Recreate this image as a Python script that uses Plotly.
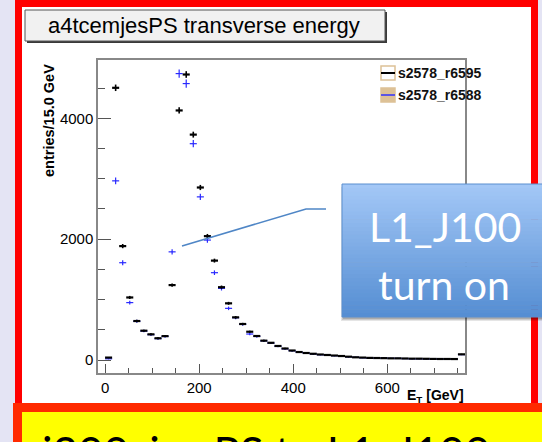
import plotly.graph_objects as go

# ---------------- data ----------------
bin_centers = [7.5, 22.5, 37.5, 52.5, 67.5, 82.5, 97.5, 112.5, 127.5, 142.5,
               157.5, 172.5, 187.5, 202.5, 217.5, 232.5, 247.5, 262.5, 277.5, 292.5,
               307.5, 322.5, 337.5, 352.5, 367.5, 382.5, 397.5, 412.5, 427.5, 442.5,
               457.5, 472.5, 487.5, 502.5, 517.5, 532.5, 547.5, 562.5, 577.5, 592.5,
               607.5, 622.5, 637.5, 652.5, 667.5, 682.5, 697.5, 712.5, 727.5, 742.5,
               757.5]
r6595 = [40, 4505, 1885, 1035, 645, 485, 425, 360, 395, 1240,
         4130, 4725, 3730, 2855, 2050, 1645, 1205, 938, 706, 596,
         468, 397, 320, 285, 232, 190, 157, 132, 116, 103,
         91, 83, 74, 66, 55, 45, 40, 35, 33, 31,
         28, 28, 25, 22, 22, 20, 18, 17, 17, 16,
         94]
r6588 = [20, 2965, 1610, 950, 640, 480, 420, 355, 390, 1790,
         4740, 4575, 3580, 2700, 1985, 1445, 1185, 855, 700, 590,
         430, 390, 318, 280, 228, 186, 155, 128, 114, 101,
         88, 80, 72, 64, 53, 44, 38, 34, 31, 30,
         27, 26, 24, 21, 21, 19, 17, 16, 15, 14,
         90]
series_names = ["s2578_r6595", "s2578_r6588"]
x_tickvals = [0, 200, 400, 600]
y_tickvals = [0, 2000, 4000]

# ---------------- layout helpers ----------------
W, H = 542, 442
L, R, T, B = 98, 465, 60, 373


def px(x):
    return (x - L) / (R - L)


def py(y):
    return (B - y) / (B - T)


fig = go.Figure()

fig.add_trace(go.Scatter(
    x=bin_centers, y=r6588, mode="markers", name=series_names[1],
    marker=dict(size=1, color="#2a2aff"),
    error_x=dict(type="constant", value=7.5, width=0, thickness=1.2, color="#2a2aff"),
    error_y=dict(type="data", array=[v ** 0.5 for v in r6588], width=0, thickness=1.2, color="#2a2aff"),
    showlegend=False, cliponaxis=True))
fig.add_trace(go.Scatter(
    x=bin_centers, y=r6595, mode="markers", name=series_names[0],
    marker=dict(size=1, color="#000000"),
    error_x=dict(type="constant", value=7.5, width=0, thickness=2.2, color="#000000"),
    error_y=dict(type="data", array=[0.8 * v ** 0.5 for v in r6595], width=0, thickness=1.6, color="#000000"),
    showlegend=False, cliponaxis=True))

shapes = []
# red slide frame
shapes.append(dict(type="rect", xref="paper", yref="paper", layer="below",
                   x0=px(18.5), x1=px(534.5), y0=py(3.5), y1=py(406.5),
                   line=dict(color="#ff0000", width=7), fillcolor="#ffffff"))
# title box with shadow
shapes.append(dict(type="rect", xref="paper", yref="paper",
                   x0=px(27), x1=px(387), y0=py(12), y1=py(43),
                   line=dict(width=0), fillcolor="#3a3a3a"))
shapes.append(dict(type="rect", xref="paper", yref="paper",
                   x0=px(25), x1=px(385), y0=py(10), y1=py(41),
                   line=dict(color="#555555", width=1), fillcolor="#f1f1f1"))
# legend symbols
tan = "#ddc196"
shapes.append(dict(type="rect", xref="paper", yref="paper",
                   x0=px(381), x1=px(395), y0=py(66), y1=py(80),
                   line=dict(color=tan, width=1.5), fillcolor="#ffffff"))
shapes.append(dict(type="line", xref="paper", yref="paper",
                   x0=px(381), x1=px(395), y0=py(73), y1=py(73),
                   line=dict(color="#000000", width=2)))
shapes.append(dict(type="rect", xref="paper", yref="paper",
                   x0=px(381), x1=px(395), y0=py(88), y1=py(102),
                   line=dict(color=tan, width=1.5), fillcolor=tan))
shapes.append(dict(type="line", xref="paper", yref="paper",
                   x0=px(381), x1=px(395), y0=py(95), y1=py(95),
                   line=dict(color="#3030ff", width=1.5)))
# callout connector
shapes.append(dict(type="path", xref="paper", yref="paper",
                   path=f"M {px(182)} {py(246)} L {px(306)} {py(209)} L {px(326)} {py(209)}",
                   line=dict(color="#4f86c6", width=1.6)))
# callout shadow
for i, a in enumerate([0.10, 0.12, 0.15]):
    d = 4 - i
    shapes.append(dict(type="rect", xref="paper", yref="paper",
                       x0=px(342 - d + 3), x1=px(548), y0=py(184 + 3), y1=py(317 + d),
                       line=dict(width=0), fillcolor=f"rgba(0,0,0,{a})"))
# callout gradient box
top_c = (164, 200, 247)
bot_c = (84, 141, 210)
N = 34
y_top, y_bot = 184, 317
for i in range(N):
    f = (i + 0.5) / N
    c = tuple(int(round(top_c[k] + (bot_c[k] - top_c[k]) * f)) for k in range(3))
    ya = y_top + (y_bot - y_top) * i / N
    yb = y_top + (y_bot - y_top) * (i + 1) / N + 0.6
    shapes.append(dict(type="rect", xref="paper", yref="paper",
                       x0=px(342), x1=px(548), y0=py(ya), y1=py(min(yb, y_bot)),
                       line=dict(width=0), fillcolor=f"rgb{c}"))
shapes.append(dict(type="rect", xref="paper", yref="paper",
                   x0=px(342), x1=px(548), y0=py(y_top), y1=py(y_bot),
                   line=dict(color="#5b8fcf", width=1), fillcolor="rgba(0,0,0,0)"))
# yellow bottom box
shapes.append(dict(type="rect", xref="paper", yref="paper",
                   x0=px(17.5), x1=px(560), y0=py(407.5), y1=py(470),
                   line=dict(color="#ff2a00", width=9), fillcolor="#ffff00"))

annotations = []
annotations.append(dict(xref="paper", yref="paper", x=px(204), y=py(26),
                        text="a4tcemjesPS transverse energy", showarrow=False,
                        xanchor="center", yanchor="middle",
                        font=dict(family="Liberation Sans, Arial", size=22, color="#000")))
annotations.append(dict(xref="paper", yref="paper", x=px(49), y=py(121),
                        text="<b>entries/15.0 GeV</b>", showarrow=False, textangle=-90,
                        xanchor="center", yanchor="middle",
                        font=dict(family="Liberation Sans, Arial", size=14.5, color="#000")))
annotations.append(dict(xref="paper", yref="paper", x=px(466), y=py(396),
                        text="<b>E<sub>T</sub> [GeV]</b>", showarrow=False,
                        xanchor="right", yanchor="middle",
                        font=dict(family="Liberation Sans, Arial", size=14, color="#000")))
for name, yy in zip(series_names, [73, 95]):
    annotations.append(dict(xref="paper", yref="paper", x=px(396), y=py(yy),
                            text=f"<b>{name}</b>", showarrow=False,
                            xanchor="left", yanchor="middle",
                            font=dict(family="Liberation Sans, Arial", size=14, color="#111")))
annotations.append(dict(xref="paper", yref="paper", x=px(445), y=py(226),
                        text="L1_J100", showarrow=False, xanchor="center", yanchor="middle",
                        font=dict(family="Lato", size=41, color="#ffffff")))
annotations.append(dict(xref="paper", yref="paper", x=px(444), y=py(284),
                        text="turn on", showarrow=False, xanchor="center", yanchor="middle",
                        font=dict(family="Lato", size=41, color="#ffffff")))
annotations.append(dict(xref="paper", yref="paper", x=px(38), y=py(452),
                        text="j200_jes PS to L1_J100", showarrow=False,
                        xanchor="left", yanchor="middle",
                        font=dict(family="Lato", size=44, color="#000000")))

fig.update_layout(
    width=W, height=H,
    margin=dict(l=L, r=W - R, t=T, b=H - B, pad=0),
    paper_bgcolor="#e4e4f4",
    plot_bgcolor="rgba(0,0,0,0)",
    shapes=shapes, annotations=annotations,
    showlegend=False,
    xaxis=dict(range=[-15, 765], tickvals=x_tickvals, ticks="inside", ticklen=9,
               tickcolor="#555", tickwidth=1.2, showline=True, linecolor="#888",
               linewidth=1.5, mirror=True, showgrid=False, zeroline=False,
               minor=dict(dtick=50, tick0=0, ticks="inside", ticklen=5, tickcolor="#555", showgrid=False),
               tickfont=dict(family="Liberation Sans, Arial", size=15, color="#000"),
               tickprefix="<b>", ticksuffix="</b>"),
    yaxis=dict(range=[-215, 4965], tickvals=y_tickvals, ticks="inside", ticklen=13,
               tickcolor="#555", tickwidth=1.2, showline=True, linecolor="#888",
               linewidth=1.5, mirror=True, showgrid=False, zeroline=False,
               minor=dict(dtick=500, tick0=0, ticks="inside", ticklen=7, tickcolor="#555", showgrid=False),
               tickfont=dict(family="Liberation Sans, Arial", size=15, color="#000"),
               tickprefix="<b>", ticksuffix="</b>"),
)

fig.write_html("out.html", config={"displayModeBar": False},
               post_script="document.body.style.margin='0';document.body.style.overflow='hidden';")
